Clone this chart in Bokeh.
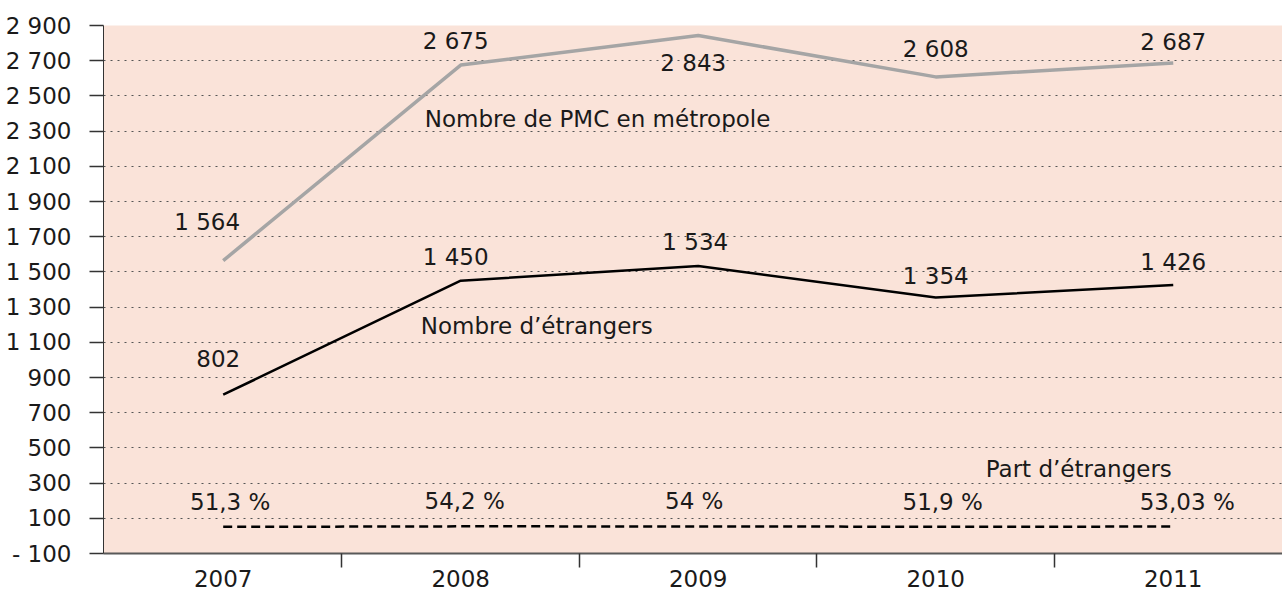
from bokeh.plotting import figure
from bokeh.models import FixedTicker, Range1d
from bokeh.core.properties import value
from bokeh.embed import file_html
from bokeh.resources import INLINE

# ---- data ----
years = ["2007", "2008", "2009", "2010", "2011"]
pmc = [1564, 2675, 2843, 2608, 2687]
etrangers = [802, 1450, 1534, 1354, 1426]
part = [51.3, 54.2, 54.0, 51.9, 53.03]
pmc_labels = ["1 564", "2 675", "2 843", "2 608", "2 687"]
etr_labels = ["802", "1 450", "1 534", "1 354", "1 426"]
part_labels = ["51,3 %", "54,2 %", "54 %", "51,9 %", "53,03 %"]
series_names = ["Nombre de PMC en métropole", "Nombre d’étrangers", "Part d’étrangers"]
y_ticks = [-100, 100, 300, 500, 700, 900, 1100, 1300, 1500, 1700, 1900, 2100, 2300, 2500, 2700, 2900]
y_tick_labels = ["- 100", "100", "300", "500", "700", "900", "1 100", "1 300", "1 500",
                 "1 700", "1 900", "2 100", "2 300", "2 500", "2 700", "2 900"]

# ---- styles ----
FONT = value("DejaVu Sans")
FS = "23px"
PINK = "#FAE3D9"
GREY = "#A5A5A5"
pmc_dx = [-16, -5, -5, 0, 0]
pmc_dy = [-39, -24, 27, -28, -21]
etr_dx = [-5, -5, -3, 0, 0]
etr_dy = [-36, -24, -24, -22, -23]
part_dx = [7, 4, -4, 7, 14]
part_dy = [-25] * 5

xs = list(range(len(years)))

p = figure(width=1282, height=593, output_backend="svg", toolbar_location=None,
           x_range=Range1d(-0.504, 4.46), y_range=Range1d(-100, 2900),
           min_border_left=103, min_border_top=25, min_border_right=0, min_border_bottom=40)
p.background_fill_color = PINK
p.border_fill_color = "white"
p.outline_line_color = None

# axes
p.yaxis.ticker = FixedTicker(ticks=y_ticks)
p.yaxis.major_label_overrides = {t: l for t, l in zip(y_ticks, y_tick_labels)}
p.yaxis.major_label_text_font = "DejaVu Sans"
p.yaxis.major_label_text_font_size = FS
p.yaxis.major_label_text_color = "#1a1a1a"
p.yaxis.major_tick_out = 14
p.yaxis.major_tick_in = 0
p.yaxis.major_tick_line_color = "#333333"
p.yaxis.major_tick_line_width = 1.5
p.yaxis.minor_tick_line_color = None
p.yaxis.axis_line_color = "#333333"
p.yaxis.axis_line_width = 1
p.yaxis.major_label_standoff = 18

p.xaxis.ticker = FixedTicker(ticks=xs, minor_ticks=[0.5, 1.5, 2.5, 3.5])
p.xaxis.major_label_overrides = {x: y for x, y in zip(xs, years)}
p.xaxis.major_label_text_font = "DejaVu Sans"
p.xaxis.major_label_text_font_size = FS
p.xaxis.major_label_text_color = "#1a1a1a"
p.xaxis.major_tick_line_color = None
p.xaxis.major_tick_out = 0
p.xaxis.major_tick_in = 0
p.xaxis.minor_tick_out = 14
p.xaxis.minor_tick_in = 0
p.xaxis.minor_tick_line_color = "#333333"
p.xaxis.minor_tick_line_width = 1.5
p.xaxis.axis_line_color = "#595959"
p.xaxis.axis_line_width = 2
p.xaxis.major_label_standoff = 2

p.xgrid.visible = False
p.ygrid.grid_line_color = "#555555"
p.ygrid.grid_line_dash = "2 5"
p.ygrid.grid_line_width = 1

# lines
p.line(xs, pmc, line_color=GREY, line_width=3.5)
p.line(xs, etrangers, line_color="black", line_width=2.5)
p.line(xs, part, line_color="black", line_width=2.5, line_dash="9 5")

# value labels
common = dict(text_font=FONT, text_font_size=FS, text_color="#1a1a1a",
              text_align="center", text_baseline="middle")
p.text(x=xs, y=pmc, text=pmc_labels, x_offset=pmc_dx, y_offset=pmc_dy, **common)
p.text(x=xs, y=etrangers, text=etr_labels, x_offset=etr_dx, y_offset=etr_dy, **common)
p.text(x=xs, y=part, text=part_labels, x_offset=part_dx, y_offset=part_dy, **common)

# series names
name_common = dict(text_font=FONT, text_font_size=FS, text_color="#1a1a1a",
                   text_align="left", text_baseline="middle")
p.text(x=[xs[1]], y=[pmc[1]], text=[series_names[0]], x_offset=-36, y_offset=54, **name_common)
p.text(x=[xs[1]], y=[etrangers[1]], text=[series_names[1]], x_offset=-40, y_offset=45, **name_common)
p.text(x=[xs[3]], y=[part[3]], text=[series_names[2]], x_offset=50, y_offset=-58, **name_common)

open("out.html", "w").write(file_html(p, INLINE))
